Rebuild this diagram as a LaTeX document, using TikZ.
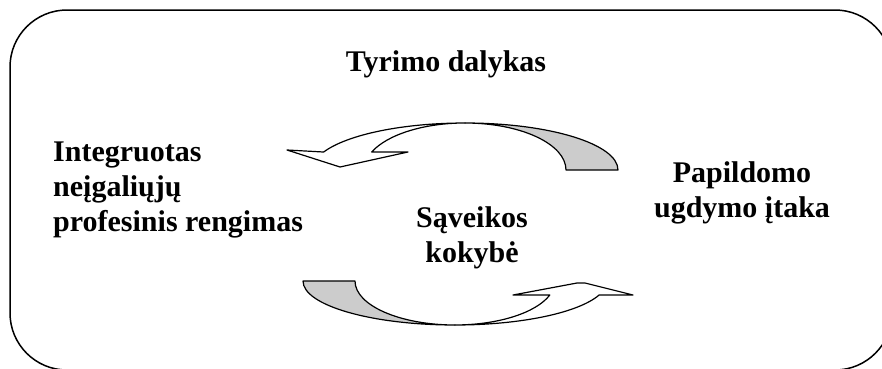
\documentclass[tikz,border=0pt]{standalone}
\usepackage{fontspec}
\setmainfont{Liberation Serif}
\begin{document}
\begin{tikzpicture}[x=1pt, y=1pt,
        lbl/.style={font=\fontsize{30}{35}\selectfont\bfseries, inner sep=0pt},
        band/.style={draw=black, line width=1.2pt, line join=round}]
        \useasboundingbox (0,0) rectangle (882,368);
        \clip (0,0) rectangle (882,368);
        \draw[line width=1.5pt, rounded corners=57pt] (10,-2) rectangle (892,358);
        % upper arrow
        \draw[band, fill=black!20] (618,198) arc[start angle=0, end angle=90, x radius=153, y radius=47]
            arc[start angle=90, end angle=0, x radius=101, y radius=47] -- cycle;
        \draw[band, fill=white] (465,245) arc[start angle=90, end angle=157.5, x radius=153, y radius=47]
            -- (287,218) -- (340,201) -- (408,216) -- (371.7,216)
            arc[start angle=157.5, end angle=90, x radius=101, y radius=47] -- cycle;
        % lower arrow
        \draw[band, fill=black!20] (303,87) arc[start angle=180, end angle=270, x radius=152, y radius=44]
            arc[start angle=270, end angle=180, x radius=100, y radius=44] -- cycle;
        \draw[band, fill=white] (455,43) arc[start angle=270, end angle=341.4, x radius=152, y radius=44]
            -- (633,73) -- (585,85) -- (577,85) -- (513,73) -- (549.8,73)
            arc[start angle=341.4, end angle=270, x radius=100, y radius=44] -- cycle;
        \node[lbl, anchor=base] (dalykas) at (446,297) {Tyrimo dalykas};
        \node[lbl, anchor=base west, align=left] (rengimas) at (53,137) {Integruotas\\neįgaliųjų\\profesinis rengimas};
        \node[lbl, anchor=base, align=center] (ugdymas) at (742,151) {Papildomo\\ugdymo įtaka};
        \node[lbl, anchor=base, align=center] (saveika) at (472,106) {Sąveikos\\kokybė};
    \end{tikzpicture}
\end{document}
